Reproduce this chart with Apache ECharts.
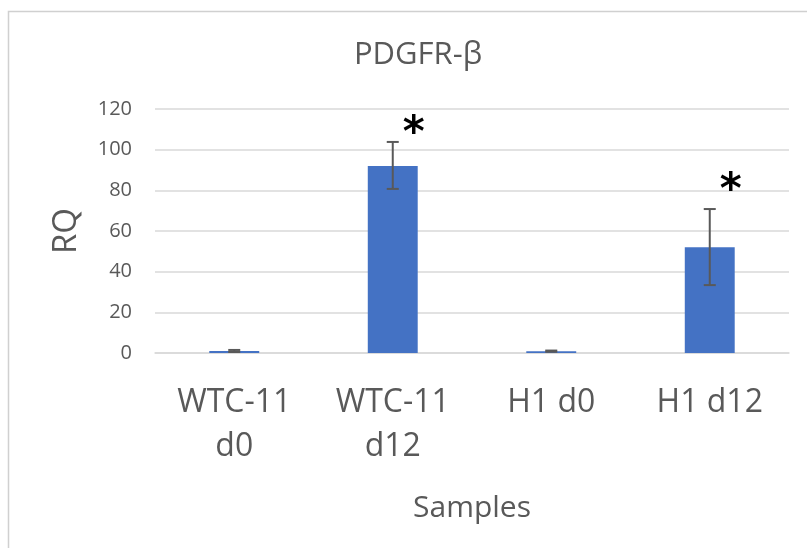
<!DOCTYPE html>
<html lang="en" style="height: 100%; width: 100%; overflow: hidden">
<head>
    <meta charset="UTF-8">
    <title>PDGFR-β</title>
    <script type="text/javascript" src="https://cdn.jsdelivr.net/npm/echarts@6/dist/echarts.min.js"></script>
</head>
<body style="height: 100%; width: 100%; margin: 0">
<div id="container" style="height: 548px; width: 807px"></div>
</body>
</html>

<script type="text/javascript">

    // values
    var samples = ['WTC-11\nd0', 'WTC-11\nd12', 'H1 d0', 'H1 d12'];
    var rq = [1.0, 92, 0.9, 52];
    var errLow = [0.5, 80.7, 0.6, 33.4];
    var errHigh = [1.5, 103.8, 1.2, 70.8];
    var starAt = [null, 112, null, 84];

    var textColor = '#595959';
    var lineColor = '#D9D9D9';
    var font = '"Open Sans", "Liberation Sans", sans-serif';

    var dom = document.getElementById("container");
    var myChart = echarts.init(dom);

    var errData = samples.map(function (s, i) {
        return [i, errLow[i], errHigh[i]];
    });
    var starData = [];
    starAt.forEach(function (v, i) {
        if (v !== null) starData.push([i, v]);
    });

    var option = {
        animation: false,
        backgroundColor: '#fff',
        title: {
            text: 'PDGFR-β',
            left: 413,
            top: 35,
            textAlign: 'center',
            textStyle: {
                color: textColor,
                fontFamily: font,
                fontWeight: 'normal',
                fontSize: 31
            }
        },
        graphic: [{
            type: 'rect',
            left: 6,
            top: 9,
            shape: {width: 900, height: 700},
            style: {fill: null, stroke: '#D0D0D0', lineWidth: 1.5},
            silent: true
        }],
        grid: {
            left: 155,
            right: 18,
            top: 109,
            bottom: 195
        },
        xAxis: {
            type: 'category',
            data: samples,
            name: 'Samples',
            nameLocation: 'middle',
            nameGap: 140,
            nameTextStyle: {
                color: textColor,
                fontFamily: font,
                fontSize: 30
            },
            axisLine: {lineStyle: {color: lineColor, width: 1.5}},
            axisTick: {show: false},
            axisLabel: {
                color: textColor,
                fontFamily: font,
                fontSize: 32,
                lineHeight: 44,
                margin: 28,
                interval: 0
            }
        },
        yAxis: {
            type: 'value',
            min: 0,
            max: 120,
            interval: 20,
            name: 'RQ',
            nameLocation: 'middle',
            nameGap: 72,
            nameTextStyle: {
                color: textColor,
                fontFamily: font,
                fontSize: 33
            },
            axisLine: {show: false},
            axisTick: {show: false},
            splitLine: {lineStyle: {color: lineColor, width: 1.5}},
            axisLabel: {
                color: textColor,
                fontFamily: font,
                fontSize: 20,
                margin: 23
            }
        },
        series: [
            {
                name: 'RQ',
                type: 'bar',
                data: rq,
                barWidth: '31.5%',
                itemStyle: {color: '#4472C4'}
            },
            {
                name: 'error',
                type: 'custom',
                data: errData,
                z: 10,
                renderItem: function (params, api) {
                    var lo = api.coord([api.value(0), api.value(1)]);
                    var hi = api.coord([api.value(0), api.value(2)]);
                    var half = 6;
                    var style = {stroke: '#595959', lineWidth: 2};
                    return {
                        type: 'group',
                        children: [
                            {type: 'line', shape: {x1: lo[0], y1: lo[1], x2: hi[0], y2: hi[1]}, style: style},
                            {type: 'line', shape: {x1: lo[0] - half, y1: lo[1], x2: lo[0] + half, y2: lo[1]}, style: style},
                            {type: 'line', shape: {x1: hi[0] - half, y1: hi[1], x2: hi[0] + half, y2: hi[1]}, style: style}
                        ]
                    };
                }
            },
            {
                name: 'significance',
                type: 'custom',
                data: starData,
                z: 10,
                renderItem: function (params, api) {
                    var p = api.coord([api.value(0), api.value(1)]);
                    return {
                        type: 'text',
                        x: p[0] + 21,
                        y: p[1] + 10,
                        style: {
                            text: '*',
                            fill: '#000',
                            font: 'bold 42px "DejaVu Sans", sans-serif',
                            align: 'center',
                            verticalAlign: 'middle'
                        }
                    };
                }
            }
        ]
    };

    myChart.setOption(option);

</script>
